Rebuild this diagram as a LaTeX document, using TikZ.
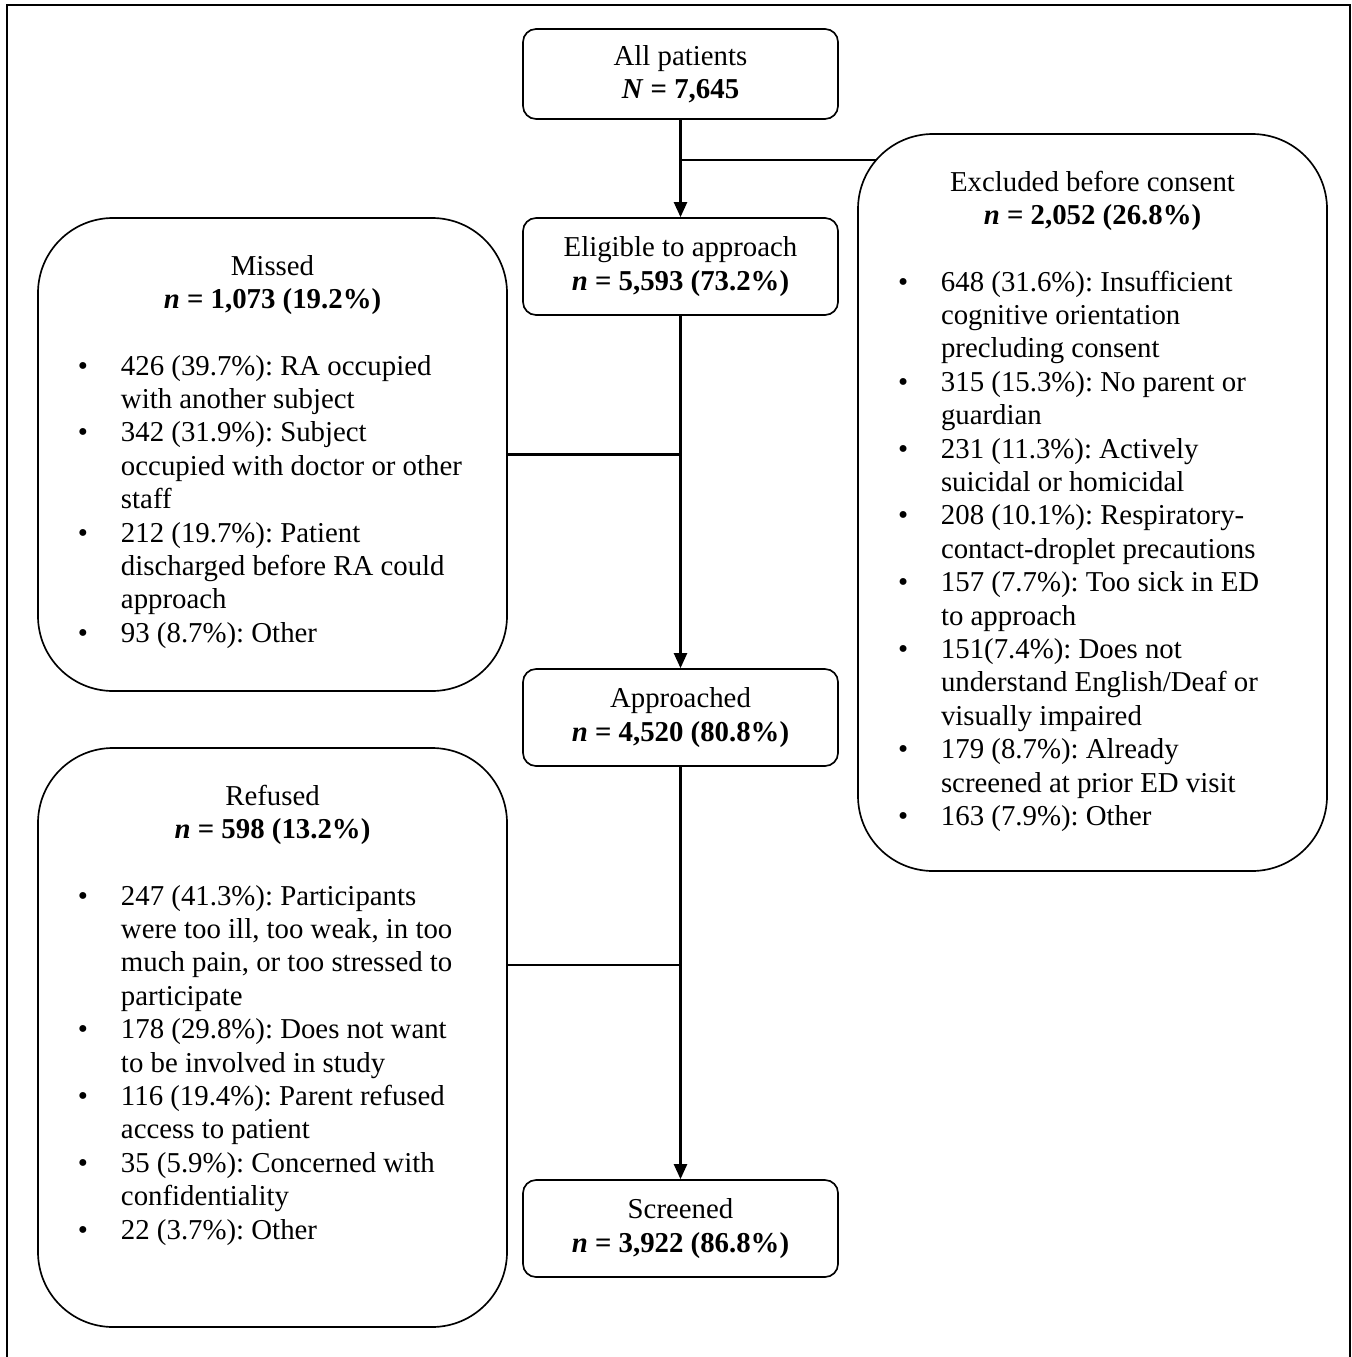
\documentclass[tikz,border=0pt]{standalone}
\usepackage{fontspec}
\setmainfont{Liberation Serif}
\usetikzlibrary{arrows.meta,backgrounds}
\frenchspacing

\newcommand{\headlines}[2]{{\centering\rule{0pt}{1.14cm}#1\\#2\par}\vspace{19pt}}
\newcommand{\bitem}[1]{{\let\\\newline\hangindent=1.66cm\hangafter=1\noindent\hspace*{0.8cm}\makebox[0.86cm][l]{\textbullet}#1\par}}

\begin{document}
\begin{tikzpicture}[
    font=\fontsize{16.4}{19}\selectfont,
    mainbox/.style={draw, line width=0.95pt, rounded corners=0.26cm, fill=white,
      minimum width=6.3cm, minimum height=1.94cm, align=center, inner sep=2pt},
    sidebox/.style={draw, line width=0.95pt, rounded corners=1.5cm, fill=white, inner sep=0pt},
    flow/.style={draw, line width=1.3pt, -{Triangle[length=0.3cm,width=0.26cm]}},
    branch/.style={draw, line width=1.3pt}
  ]

        \useasboundingbox (0,0) rectangle (27.02,-27.14);
        \draw[line width=1.4pt] (0.14,-27.3) -- (0.14,-0.10) -- (27.0,-0.10) -- (27.0,-27.3);

        \begin{scope}[every node/.style={mainbox}]
          \node (0) at (13.61,-1.48) [minimum height=1.8cm] {All patients\\\textbf{\textit{N} = 7,645}};
          \node (1) at (13.61,-5.33)  {Eligible to approach\\\textbf{\textit{n} = 5,593 (73.2\%)}};
          \node (2) at (13.61,-14.35) {Approached\\\textbf{\textit{n} = 4,520 (80.8\%)}};
          \node (3) at (13.61,-24.57) {Screened\\\textbf{\textit{n} = 3,922 (86.8\%)}};
        \end{scope}

        \begin{scope}[every node/.style={sidebox}]
          \node (4) at (21.85,-10.05) {\parbox[c][14.74cm][t]{9.38cm}{\raggedright
            \headlines{Excluded before consent}{\textbf{\textit{n} = 2,052 (26.8\%)}}
            \bitem{648 (31.6\%): Insufficient\\cognitive orientation\\precluding consent}
            \bitem{315 (15.3\%): No parent or\\guardian}
            \bitem{231 (11.3\%): Actively\\suicidal or homicidal}
            \bitem{208 (10.1\%): Respiratory-\\contact-droplet precautions}
            \bitem{157 (7.7\%): Too sick in ED\\to approach}
            \bitem{151(7.4\%): Does not\\understand English/Deaf or\\visually impaired}
            \bitem{179 (8.7\%): Already\\screened at prior ED visit}
            \bitem{163 (7.9\%): Other}}};
          \node (5) at (5.45,-9.09) {\parbox[c][9.46cm][t]{9.38cm}{\raggedright
            \headlines{Missed}{\textbf{\textit{n} = 1,073 (19.2\%)}}
            \bitem{426 (39.7\%): RA occupied\\with another subject}
            \bitem{342 (31.9\%): Subject\\occupied with doctor or other\\staff}
            \bitem{212 (19.7\%): Patient\\discharged before RA could\\approach}
            \bitem{93 (8.7\%): Other}}};
          \node (6) at (5.45,-20.75) {\parbox[c][11.58cm][t]{9.38cm}{\raggedright
            \headlines{Refused}{\textbf{\textit{n} = 598 (13.2\%)}}
            \bitem{247 (41.3\%): Participants\\were too ill, too weak, in too\\much pain, or too stressed to\\participate}
            \bitem{178 (29.8\%): Does not want\\to be involved in study}
            \bitem{116 (19.4\%): Parent refused\\access to patient}
            \bitem{35 (5.9\%): Concerned with\\confidentiality}
            \bitem{22 (3.7\%): Other}}};
        \end{scope}

        % side branches, hidden behind the white boxes
        \begin{scope}[on background layer]
          \coordinate (e) at (13.61,-3.2);
          \coordinate (r) at (13.61,-19.3);
          \draw[branch] (e) -- (e -| 4.center);
          \draw[branch] (1 |- 5.east) -- (5.east);
          \draw[branch] (r) -- (r -| 6.east);
        \end{scope}

        \path (0) edge[flow] (1)
              (1) edge[flow] (2)
              (2) edge[flow] (3);

      \end{tikzpicture}
\end{document}
